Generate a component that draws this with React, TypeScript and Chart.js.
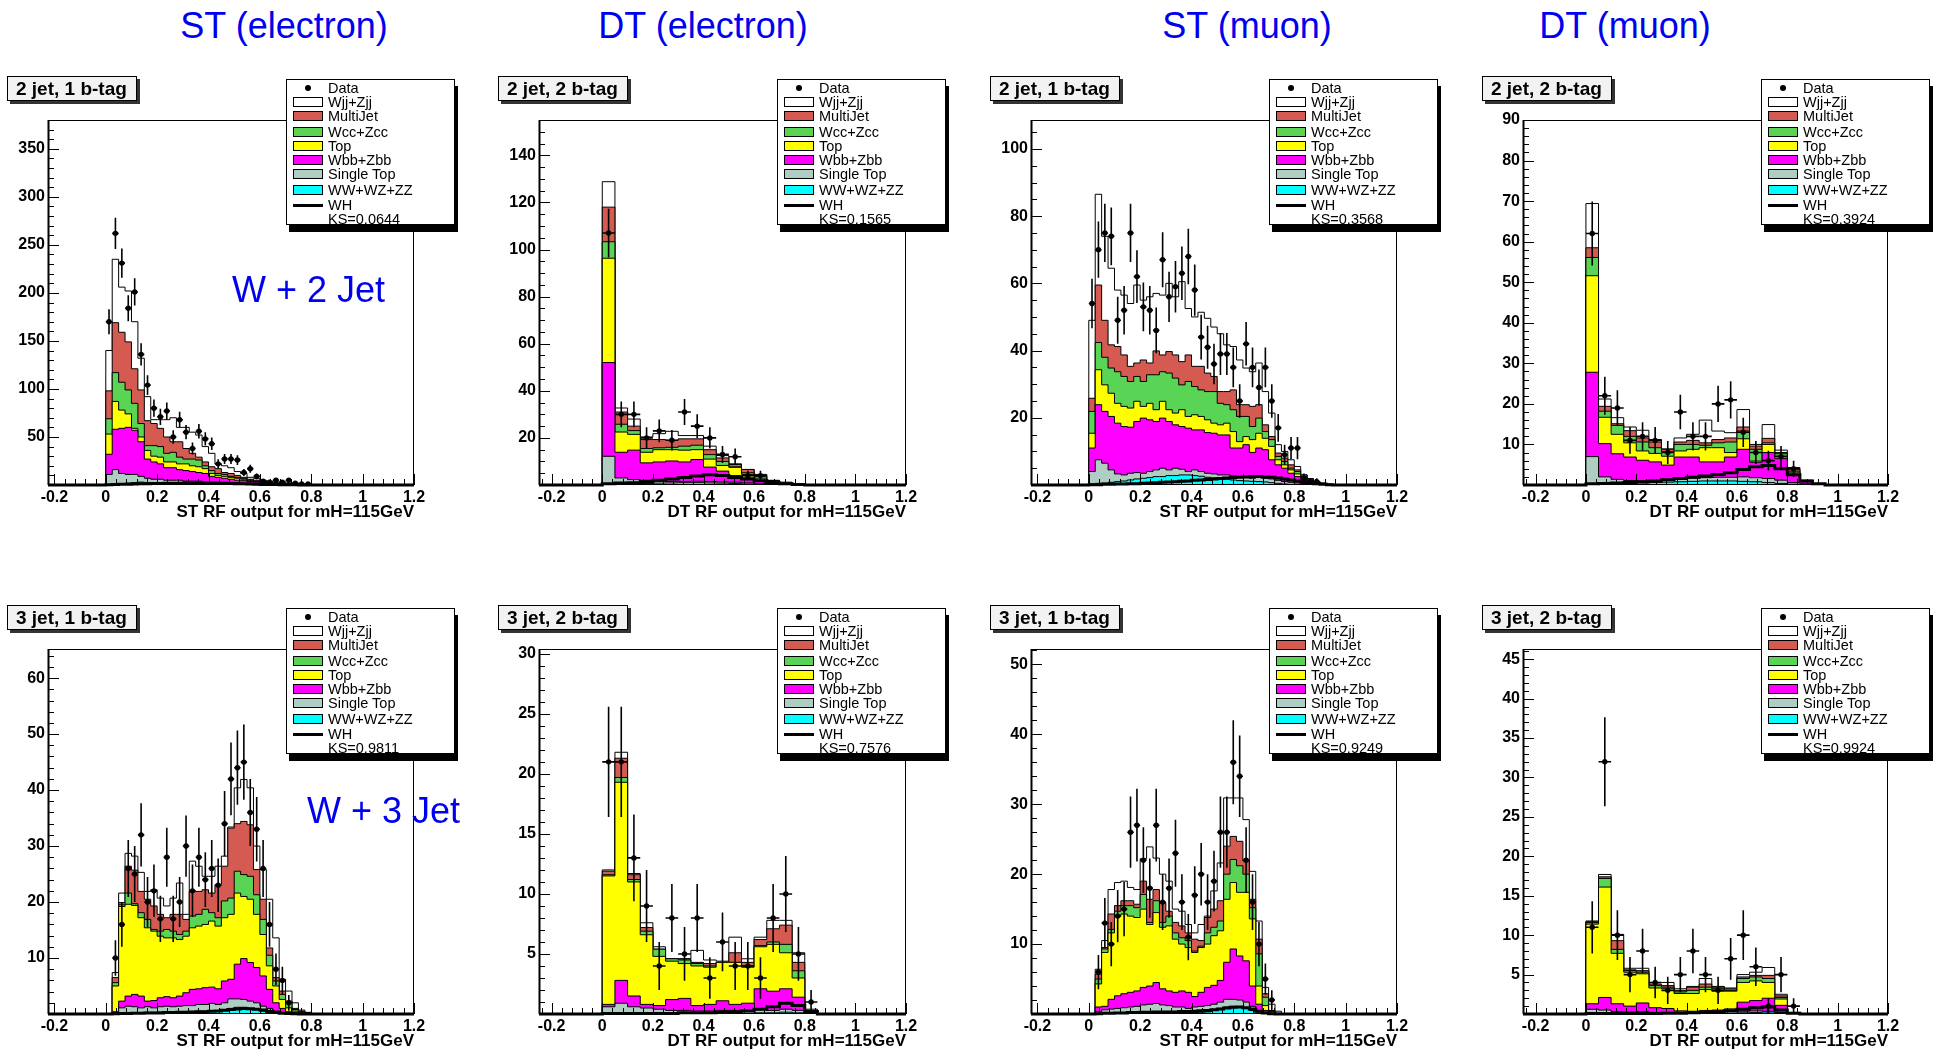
import React, { useEffect, useRef } from 'react';
import { Chart, registerables } from 'chart.js';

Chart.register(...registerables);

// Stack levels (cumulative height of the stack up to and including the named process),
// bins start at 0. Order: Wjj (total), MultiJet, Wcc, Top, Wbb, SingleTop, Diboson.

// ---------- Panel 1: ST electron, 2 jet 1 b-tag (bin 0.025)
const p1Tot = [140,235,206,202,170,132,92,68,68,68,70,60,60,55,52,40,33,22,20,18,14,12,8,7,5,4,3,3,2,2,1,1,0.5,0.5,0.3,0.2];
const p1Mj = [98,169,159,149,121,99,67,64,59,50,45,45,38,33,29,24,19,17,13,12,10,8,6,5,4,3,2,2,1.5,1,0.7,0.5,0.3,0.2,0.1,0.1];
const p1Wcc = [69,117,107,99,85,64,41,41,40,33,34,29,27,27,26,20,15,12,11,9,8,7,5,4,3,2.5,2,1.5,1,0.8,0.5,0.4,0.3,0.2,0.1,0.1];
const p1Top = [53,87,78,74,59,50,36,30,29,24,24,22,22,20,19,17,12,10,9,8,7,6,4,3.5,3,2,1.5,1.2,0.9,0.7,0.4,0.3,0.2,0.1,0.1,0.05];
const p1Wbb = [32,58,59,60,57,45,27,24,22,18,18,16,15,14,13,12,9,8,7,6,5,4.5,3.5,3,2.5,1.8,1.3,1,0.8,0.6,0.4,0.3,0.2,0.1,0.1,0.05];
const p1Stop = [11,16,12,11,11,9,7,6,6,5,5,5,4,4,4,3,3,3,2.5,2,2,1.5,1.2,1,0.8,0.6,0.5,0.4,0.3,0.2,0.2,0.1,0.1,0.05,0.05,0];
const p1Dib = [0.5,1,1.5,2,2.5,3,2.5,2.5,2.5,2,2,2,2,1.5,1.5,1.5,1.2,1,1,0.8,0.7,0.6,0.5,0.4,0.3,0.3,0.2,0.2,0.1,0.1,0.1,0,0,0,0,0];
const p1Wh = [0.3,0.5,0.7,0.9,1,1.2,1.3,1.5,1.6,1.7,1.8,1.9,2,2,2,2,2,1.9,1.8,1.6,1.4,1.2,1,0.8,0.6,0.5,0.4,0.3,0.2,0.2,0.1,0.1,0.1,0,0,0];
const p1Data = [170,262,231,184,201,136,104,80,71,77,50,68,55,38,56,48,43,22,27,27,26,13,17,9,4,3,5,3,5,2,1,1];

// ---------- Panel 2: DT electron, 2 jet 2 b-tag (bin 0.05)
const p2Tot = [128.8,32.7,28,20.4,21.8,22.8,21,21,16.5,12.5,9,6.6,4.5,2,1.2,0.5];
const p2Mj = [118,31,25,19.3,19.3,19,19.6,19.6,15,11.5,8.7,6.6,4,1.9,0.8,0.3];
const p2Wcc = [103.3,25.8,23.1,15.5,15.8,16,16.5,16.9,12.9,10,7.7,5.2,3.5,1.6,0.6,0.2];
const p2Top = [96.3,22.5,21.5,13.9,15,15,14.8,15,11,8.3,7.5,4.5,2.6,1.2,0.4,0.1];
const p2Wbb = [52,13.9,14.8,9.4,9.8,10.2,9.8,10.8,7.6,5.9,4,3,1.5,0.9,0.3,0.1];
const p2Stop = [12.2,3,2.3,2,1.6,1.5,1.5,1.6,1.5,1.3,1.2,0.9,0.5,0.3,0.1,0];
const p2Dib = [0.2,0.4,0.5,0.6,0.8,0.9,1,1,0.9,0.8,0.6,0.4,0.3,0.2,0.1,0];
const p2Wh = [0.5,0.8,1,1.5,2,2.6,3.2,3.8,4.3,4,3.2,2.5,1.8,1,0.5,0.2];
const p2Data = [107,30,30,20,23,19,31,25,20,13,12,4,4,1];

// ---------- Panel 3: ST muon, 2 jet 1 b-tag (bin 0.025)
const p3Tot = [49,86.5,74,64.5,58,56.5,54,59.5,55,56,57,56.5,60,56,60.5,52.5,50,51.4,49.6,47,45,41.7,41.2,37.2,34.8,33.7,36.3,27.8,21.4,12,10,7.5,5.5,3,1.9,1,0.6,0.3];
const p3Mj = [25.8,59.5,49,41.7,41.2,38.7,35.3,36.3,37.2,36.3,39.9,38.7,39.7,38.7,36.7,38.7,35.3,35.3,33.3,32.3,27.8,27.8,28.3,23.9,23.9,23.4,23.9,17.9,14.4,9.5,8,6,4.5,3,1.8,1,0.5,0.2];
const p3Wcc = [21.9,42.4,38,34.8,33.7,32.3,30.8,32.3,30.8,32.8,32.8,33.7,33.3,31.8,29.8,30.8,29.3,28.3,27.8,27.8,24.3,23.9,22.4,20.4,20.4,17.4,19.9,15.9,13.5,8.5,7,5,4,2.5,1.5,0.8,0.4,0.1];
const p3Top = [15.4,34.3,29.8,27.3,24.3,23.4,22.9,24.9,23.4,24.3,22.4,24.9,22.4,21.4,22.4,20.4,20.9,20.4,19.4,18.4,17.9,18.4,15.9,12.9,14.4,13.5,15.4,13.9,11.5,7.5,6,4.5,3.3,2,1.3,0.6,0.3,0.1];
const p3Wbb = [11,23.9,21.9,20.4,18.4,17.4,17.2,18.9,19.9,19.4,18.9,19.9,18.9,17.9,17.4,16.9,16.4,16.4,15.6,15.4,14.9,14.9,11,11,12,9.7,11,10.5,7.5,6,5,3.5,2.5,1.6,1,0.5,0.2,0.05];
const p3Stop = [4,7.5,6.5,4.5,3.3,3,3.5,3.7,3.5,4,4.5,5,4.5,5,4.7,4,4.5,4,3.5,3.3,3,3,2.7,2.5,2.3,2,2.3,2,1.8,1.4,1,0.8,0.6,0.4,0.3,0.2,0.1,0];
const p3Dib = [0.3,0.5,0.6,0.8,1,1.2,1.5,1.8,2,2.2,2.5,2.5,2.8,2.8,3,3,2.8,2.6,2.3,2.1,1.9,1.7,1.5,1.3,1.2,1.1,1,0.9,0.7,0.5,0.3,0.2,0.1,0,0,0,0,0];
const p3Wh = [0.1,0.1,0.2,0.2,0.3,0.3,0.4,0.4,0.5,0.6,0.7,0.8,0.9,1,1.1,1.2,1.4,1.5,1.6,1.8,1.9,2.1,2.2,2.3,2.4,2.5,2.5,2.4,2.3,2.1,1.8,1.5,1.2,0.9,0.6,0.4,0.2,0.1];
const p3Data = [54,70,75,74,49,52,75,62,53,52,46,67,56,59,63,68,58,44,41,36,39,39,35,25,42,35,29,35,25,17,9,11,11,2,1,1];

// ---------- Panel 4: DT muon, 2 jet 2 b-tag (bin 0.05)
const p4Tot = [69.4,21.2,16.6,14.3,13.5,11.2,8.9,11.6,12.5,16,13.3,12.9,18.6,10,14.9,8.6,4.3,1.2,0.3];
const p4Mj = [58.5,19.4,15.1,13.4,11.6,10.6,8.8,10.6,11,10.4,11.2,11.6,14.3,9.6,11.5,8,3.9,1,0.2];
const p4Wcc = [56.1,18.2,14.7,12,10.6,9.2,8.2,10,10,9.8,10.4,10.6,13.3,8.8,10.4,7.7,3.4,0.9,0.15];
const p4Top = [51.6,16.7,12.5,10.4,8.4,7.8,7.1,8.4,8.8,9.2,9.2,8,11.4,5.9,10,7.1,3,0.8,0.1];
const p4Wbb = [27.8,10.2,7.7,6.9,6.1,5.7,4.9,6.9,6.9,5.7,5.7,6.9,8.8,5.6,8,6.5,2.6,0.8,0.1];
const p4Stop = [7,2,1.4,1.1,1,0.9,1.2,1.6,1.7,1.8,1.9,1.9,2,1.8,1.6,1.2,0.6,0.3,0];
const p4Dib = [0.1,0.2,0.3,0.4,0.5,0.6,0.7,0.8,0.9,1,1,1,0.9,0.8,0.6,0.4,0.2,0.1,0];
const p4Wh = [0.3,0.4,0.5,0.6,0.8,1,1.3,1.6,1.9,2.2,2.6,3,3.8,4.5,4.8,4,2.5,1,0.3];
const p4Data = [62,22,19,11,12,11,8,18,12,12,20,21,13,8,6,7,4];

// ---------- Panel 5: ST electron, 3 jet 1 b-tag (bin 0.025)
const p5Tot = [0,7.4,21.6,28.7,28.2,25.3,21.9,22.2,20.7,19.3,20.7,23.4,17.8,27.3,26.4,24.6,24.6,26.4,28.2,33.4,40.4,41.9,40.4,30,25.8,20.5,13.6,6.2,4.1,2,0.7,0.3];
const p5Mj = [0,6.5,19.9,26.4,25.7,21.9,20.5,19.3,17.8,17.2,17.8,17.8,16.9,21.9,21.9,22.2,21.6,23.1,26.4,33.2,34,34.4,33.8,25.8,20.5,11.8,6.5,4.1,2.3,1,0.5,0.2];
const p5Wcc = [0,5.6,19.5,21.6,19.7,18.1,16.9,15.1,14.8,15.1,14.8,14.2,14.8,17.5,17.8,18.7,18.1,17.2,20.2,20.7,25.5,24.9,24.6,21.3,16.9,10.5,5.9,3.5,2,0.8,0.4,0.1];
const p5Top = [0,5,19.2,19.6,19.4,17.2,15.4,14.8,13.9,13.6,13.6,13.3,13.9,15.4,15.7,16,16.6,15.7,17.2,17.8,21.6,21,20.5,17.8,14.2,8.6,5,2.6,1.1,0.5,0.3,0.1];
const p5Wbb = [0,0.4,2.3,3.2,3.5,3.2,2.3,2.4,2.9,3.1,2.9,3.2,3.8,4.4,4.5,4.7,4.8,4.5,5.9,6.2,8.9,9.9,9.2,8.3,6.8,4.4,2,1,0.4,0.2,0.1,0];
const p5Stop = [0,0.2,1.1,1.4,1.3,1.1,1.3,1.1,1.3,1.4,1.3,1.4,1.5,1.5,1.7,1.7,1.9,1.7,2,2.7,2.7,2.6,2.3,2,1.4,1,0.5,0.2,0.1,0,0,0];
const p5Dib = [0,0.05,0.1,0.15,0.2,0.25,0.3,0.3,0.35,0.35,0.4,0.4,0.45,0.45,0.5,0.5,0.55,0.6,0.7,1,1.2,1.2,1,0.8,0.5,0.3,0.15,0.1,0.05,0,0,0];
const p5Wh = [0,0.05,0.1,0.1,0.15,0.15,0.2,0.2,0.2,0.25,0.25,0.3,0.3,0.35,0.4,0.4,0.5,0.55,0.65,0.8,0.9,1,0.95,0.85,0.7,0.5,0.3,0.15,0.08,0.04,0.02,0];
const p5Data = [0,10,16,26,25,32,20,22,17,28,17,20,30,22,28,24,26,23,34,42,44,45,36,33,26,16,8,6,2];

// ---------- Panel 6: DT electron, 3 jet 2 b-tag (bin 0.05)
const p6Tot = [12,21.8,11.7,7.6,5.6,4.6,4.6,5.3,4.5,4.4,6.4,4.6,6.4,7.8,7.8,5.1,0.4];
const p6Mj = [11.9,21.3,11.6,7.2,5.4,4.6,4.6,4.3,4.2,4.3,5.1,4.3,6.2,7.1,7.4,4.3,0.3];
const p6Wcc = [11.6,19.7,11.2,6.9,5.4,4.6,4.5,4.2,4,4.3,4.3,4,5.7,6,5.8,3.6,0.2];
const p6Top = [11.5,19.3,11,6.6,4.8,4.4,4.2,4,3.9,4.3,4.3,3.9,5.6,5.8,5.1,3,0.2];
const p6Wbb = [0.8,2.8,1.5,0.8,0.7,1.2,1.3,0.7,0.8,1.1,0.8,0.9,2.1,1.9,2.1,1.4,0.2];
const p6Stop = [0.6,0.9,0.6,0.5,0.4,0.3,0.3,0.25,0.25,0.3,0.3,0.3,0.35,0.3,0.4,0.3,0.1];
const p6Dib = [0,0,0,0,0.05,0.05,0.05,0.05,0.05,0.05,0.05,0.05,0.1,0.1,0.15,0.1,0];
const p6Wh = [0.05,0.05,0.05,0.05,0.05,0.05,0.1,0.1,0.1,0.15,0.2,0.25,0.4,0.6,0.9,0.7,0.2];
const p6Data = [21,21,13,9,4,8,5,8,3,6,4,4,3,8,10,5,1];

// ---------- Panel 7: ST muon, 3 jet 1 b-tag (bin 0.025)
const p7Tot = [0,6.4,10.5,17.8,18.8,19,18.1,17.8,22.2,23.9,22.3,20,19,15,14.7,12.8,11.6,12.8,14,17.6,21.6,30.9,30.9,30.9,27.8,20.4,13.3,3.8,1.4,0.4];
const p7Mj = [0,5.7,9.5,14.3,15.5,16.2,16.2,15.7,19,16.4,17.8,15.9,14.7,13.1,12.6,11.6,10.7,10.5,13.8,15,16.2,24,25.4,24.7,21.9,16.4,10.7,2.9,0.5,0.1];
const p7Wcc = [0,5,9.3,12.1,14.7,15.5,15.5,15.2,17.1,13.1,16.2,13.1,14,11.6,10.9,10.5,9,9.7,11.6,12.4,13.3,20,22.1,21.2,20,15.2,8.6,2.4,0.4,0.1];
const p7Top = [0,4.3,8.8,11.6,14,14.3,14,13.8,15,12.8,14.5,12.4,12.6,10.7,10,9.5,8.8,9.5,10,11.2,11.9,16.4,18.8,17.4,17.4,13.6,4,1.2,0.3,0];
const p7Wbb = [0,1,1.1,2.1,2.6,2.9,3.1,3.3,3.8,4,4.5,3.6,3.3,3.1,3.3,3.1,2.5,3.1,3.8,4.1,4.8,7.4,9.3,8.3,7.6,4,1.4,0.5,0.1,0];
const p7Stop = [0,0.3,0.6,0.7,0.8,0.9,1,1.1,1.3,1.4,1.5,1.3,1.2,1,1,0.8,1,1.1,1.2,1.4,1.7,2.1,2.1,2,1.7,1.1,0.4,0.1,0,0];
const p7Dib = [0,0.05,0.05,0.1,0.1,0.1,0.15,0.15,0.15,0.2,0.2,0.2,0.2,0.2,0.2,0.2,0.2,0.25,0.3,0.5,0.8,1,1.1,1,0.8,0.5,0.15,0.05,0,0];
const p7Wh = [0,0.05,0.1,0.1,0.15,0.15,0.2,0.2,0.25,0.25,0.3,0.3,0.3,0.3,0.35,0.35,0.4,0.45,0.5,0.6,0.7,0.85,0.95,1,0.9,0.7,0.4,0.15,0.05,0];
const p7Data = [0,6,13,10,14,15,26,27,22,18,27,16,18,23,16,11,17,20,16,19,26,26,36,34,22,16,10,5,2];

// ---------- Panel 8: DT muon, 3 jet 2 b-tag (bin 0.05)
const p8Tot = [11.8,17.7,10.1,5.8,5.8,4,4,3.2,3.5,4.5,3.5,3.3,5,5.3,5.9,2.5,0.2];
const p8Mj = [11.7,17.4,9.3,5.6,5.5,3.8,3.6,3,3.4,3.8,3.4,3.2,4.7,4.9,4.9,2.3,0.15];
const p8Wcc = [11.6,17.2,8.2,5.5,5.3,3.6,3.4,2.8,3,3.4,3.2,3,4.5,4.7,4.5,2.1,0.1];
const p8Top = [11.4,16.1,7.7,5.3,5.1,3.3,3.2,2.6,2.6,3.1,2.9,2.9,4,4.2,4,1.9,0.1];
const p8Wbb = [1.3,2.1,1.3,1,1.4,0.8,0.7,0.4,0.35,0.45,0.5,0.65,1.5,1.7,2,1.1,0.1];
const p8Stop = [0.6,0.5,0.3,0.25,0.3,0.2,0.2,0.15,0.15,0.2,0.25,0.3,0.35,0.4,0.35,0.2,0];
const p8Dib = [0,0,0,0,0,0,0,0.05,0.05,0.05,0.05,0.1,0.15,0.2,0.25,0.1,0];
const p8Wh = [0.05,0.05,0.05,0.05,0.05,0.05,0.1,0.1,0.15,0.2,0.3,0.4,0.6,0.8,0.9,0.5,0.1];
const p8Data = [11,32,10,5,8,4,3,5,8,5,3,7,10,6,1,5,1];

const KS_VALUES = ['0.0644', '0.1565', '0.3568', '0.3924', '0.9811', '0.7576', '0.9249', '0.9924'];
const COLUMN_TITLES = ['ST (electron)', 'DT (electron)', 'ST (muon)', 'DT (muon)'];

const FONT = '"Liberation Sans", Arial, Helvetica, sans-serif';

const STACK = [
  { label: 'Wjj+Zjj', color: '#ffffff' },
  { label: 'MultiJet', color: '#d45a52' },
  { label: 'Wcc+Zcc', color: '#59d454' },
  { label: 'Top', color: '#ffff00' },
  { label: 'Wbb+Zbb', color: '#ff00ff' },
  { label: 'Single Top', color: '#b0cdc4' },
  { label: 'WW+WZ+ZZ', color: '#00ffff' },
];

const ST_X = 'ST RF output for mH=115GeV';
const DT_X = 'DT RF output for mH=115GeV';

const PANELS = [
  { left: 48, top: 120, w: 366, h: 365, xMin: -0.225, bw: 0.025, yMax: 380, yStep: 50, yMinor: 10, tag: '2 jet, 1 b-tag', xTitle: ST_X, ks: KS_VALUES[0], s: [p1Tot, p1Mj, p1Wcc, p1Top, p1Wbb, p1Stop, p1Dib], wh: p1Wh, data: p1Data },
  { left: 539, top: 120, w: 367, h: 365, xMin: -0.25, bw: 0.05, yMax: 155, yStep: 20, yMinor: 5, tag: '2 jet, 2 b-tag', xTitle: DT_X, ks: KS_VALUES[1], s: [p2Tot, p2Mj, p2Wcc, p2Top, p2Wbb, p2Stop, p2Dib], wh: p2Wh, data: p2Data },
  { left: 1031, top: 120, w: 366, h: 365, xMin: -0.225, bw: 0.025, yMax: 108.6, yStep: 20, yMinor: 5, tag: '2 jet, 1 b-tag', xTitle: ST_X, ks: KS_VALUES[2], s: [p3Tot, p3Mj, p3Wcc, p3Top, p3Wbb, p3Stop, p3Dib], wh: p3Wh, data: p3Data },
  { left: 1523, top: 120, w: 365, h: 365, xMin: -0.25, bw: 0.05, yMax: 90, yStep: 10, yMinor: 2, tag: '2 jet, 2 b-tag', xTitle: DT_X, ks: KS_VALUES[3], s: [p4Tot, p4Mj, p4Wcc, p4Top, p4Wbb, p4Stop, p4Dib], wh: p4Wh, data: p4Data },
  { left: 48, top: 649, w: 366, h: 365, xMin: -0.225, bw: 0.025, yMax: 65.2, yStep: 10, yMinor: 2, tag: '3 jet, 1 b-tag', xTitle: ST_X, ks: KS_VALUES[4], s: [p5Tot, p5Mj, p5Wcc, p5Top, p5Wbb, p5Stop, p5Dib], wh: p5Wh, data: p5Data },
  { left: 539, top: 649, w: 367, h: 365, xMin: -0.25, bw: 0.05, yMax: 30.4, yStep: 5, yMinor: 1, tag: '3 jet, 2 b-tag', xTitle: DT_X, ks: KS_VALUES[5], s: [p6Tot, p6Mj, p6Wcc, p6Top, p6Wbb, p6Stop, p6Dib], wh: p6Wh, data: p6Data },
  { left: 1031, top: 649, w: 366, h: 365, xMin: -0.225, bw: 0.025, yMax: 52.2, yStep: 10, yMinor: 2, tag: '3 jet, 1 b-tag', xTitle: ST_X, ks: KS_VALUES[6], s: [p7Tot, p7Mj, p7Wcc, p7Top, p7Wbb, p7Stop, p7Dib], wh: p7Wh, data: p7Data },
  { left: 1523, top: 649, w: 365, h: 365, xMin: -0.25, bw: 0.05, yMax: 46.3, yStep: 5, yMinor: 1, tag: '3 jet, 2 b-tag', xTitle: DT_X, ks: KS_VALUES[7], s: [p8Tot, p8Mj, p8Wcc, p8Top, p8Wbb, p8Stop, p8Dib], wh: p8Wh, data: p8Data },
];

const PAD_T = 20;
const PAD_R = 20;
const YW = 48;
const XH = 45;

function PanelChart({ p }: { p: any }) {
  const ref = useRef<HTMLCanvasElement>(null);
  const cw = YW + p.w + PAD_R;
  const ch = PAD_T + p.h + XH;

  useEffect(() => {
    const cv = ref.current;
    if (!cv) return;
    const r4 = (v: number) => Math.round(v * 10000) / 10000;
    const hist = (arr: number[]) => {
      const pts: any[] = [{ x: p.xMin, y: 0 }];
      arr.forEach((v, i) => pts.push({ x: r4(i * p.bw), y: v }));
      pts.push({ x: r4(arr.length * p.bw), y: 0 });
      pts.push({ x: 1.2, y: 0 });
      return pts;
    };
    const dataPts = p.data
      .map((v: number, i: number) => (v > 0 ? { x: r4((i + 0.5) * p.bw), y: v } : null))
      .filter(Boolean);

    const datasets: any[] = [];
    datasets.push({
      label: 'Data', data: dataPts, showLine: false, pointRadius: 2.7, pointHoverRadius: 2.7,
      pointBackgroundColor: '#000', pointBorderColor: '#000', pointBorderWidth: 0, order: 0,
    });
    datasets.push({
      label: 'WH', data: hist(p.wh), stepped: 'before', borderColor: '#000', borderWidth: 3,
      pointRadius: 0, fill: false, order: 1, clip: false,
    });
    STACK.forEach((st, k) => {
      datasets.push({
        label: st.label, data: hist(p.s[k]), stepped: 'before', borderColor: '#000', borderWidth: 1,
        backgroundColor: st.color, fill: 'origin', pointRadius: 0, order: 8 - k,
      });
    });

    const errPlugin = {
      id: 'errbars',
      afterDatasetsDraw(chart: any) {
        const ctx = chart.ctx;
        const xs = chart.scales.x;
        const ys = chart.scales.y;
        const a = chart.chartArea;
        ctx.save();
        ctx.beginPath();
        ctx.rect(a.left, a.top, a.right - a.left, a.bottom - a.top);
        ctx.clip();
        ctx.strokeStyle = '#000';
        ctx.lineWidth = 1.6;
        chart.data.datasets[0].data.forEach((pt: any) => {
          const e = Math.sqrt(pt.y);
          const px = xs.getPixelForValue(pt.x);
          const py = ys.getPixelForValue(pt.y);
          ctx.beginPath();
          ctx.moveTo(px, ys.getPixelForValue(Math.max(pt.y - e, 0)));
          ctx.lineTo(px, ys.getPixelForValue(pt.y + e));
          ctx.moveTo(xs.getPixelForValue(pt.x - p.bw / 2), py);
          ctx.lineTo(xs.getPixelForValue(pt.x + p.bw / 2), py);
          ctx.stroke();
        });
        ctx.restore();
      },
    };

    const framePlugin = {
      id: 'frame',
      afterDraw(chart: any) {
        const ctx = chart.ctx;
        const xs = chart.scales.x;
        const ys = chart.scales.y;
        const { left, right, top, bottom } = chart.chartArea;
        ctx.save();
        ctx.strokeStyle = '#000';
        ctx.lineWidth = 1;
        ctx.strokeRect(left + 0.5, top + 0.5, right - left - 1, bottom - top - 1);
        ctx.fillStyle = '#000';
        ctx.fillRect(left - 0.5, top, 2, bottom - top);
        ctx.beginPath();
        const k0 = Math.ceil(p.xMin / 0.04 - 1e-6);
        const k1 = Math.floor(1.2 / 0.04 + 1e-6);
        for (let k = k0; k <= k1; k++) {
          const px = Math.round(xs.getPixelForValue(k * 0.04)) + 0.5;
          const len = k % 5 === 0 ? 11 : 6;
          ctx.moveTo(px, bottom);
          ctx.lineTo(px, bottom - len);
        }
        const ratio = Math.round(p.yStep / p.yMinor);
        const n = Math.floor(p.yMax / p.yMinor + 1e-6);
        for (let k = 1; k <= n; k++) {
          const py = Math.round(ys.getPixelForValue(k * p.yMinor)) + 0.5;
          const len = k % ratio === 0 ? 11 : 6;
          ctx.moveTo(left, py);
          ctx.lineTo(left + len, py);
        }
        ctx.stroke();
        ctx.restore();
      },
    };

    const chart = new Chart(cv, {
      type: 'line',
      data: { datasets },
      options: {
        animation: false,
        responsive: false,
        maintainAspectRatio: false,
        devicePixelRatio: 1,
        events: [],
        layout: { padding: { top: PAD_T, right: PAD_R, left: 0, bottom: 0 } },
        plugins: { legend: { display: false }, tooltip: { enabled: false } },
        scales: {
          x: {
            type: 'linear',
            min: p.xMin,
            max: 1.2,
            grid: { display: false, drawTicks: false },
            border: { display: false },
            ticks: {
              stepSize: 0.2,
              includeBounds: false,
              autoSkip: false,
              maxRotation: 0,
              padding: 3,
              color: '#000',
              font: { family: FONT, size: 16, weight: 'bold' },
              callback: (v: any) => String(Math.round(Number(v) * 10) / 10),
            },
            title: {
              display: true,
              text: p.xTitle,
              align: 'end',
              color: '#000',
              font: { family: FONT, size: 17, weight: 'bold' },
              padding: { top: 0, bottom: 7 },
            },
            afterFit: (s: any) => { s.height = XH; },
          },
          y: {
            type: 'linear',
            min: 0,
            max: p.yMax,
            grid: { display: false, drawTicks: false },
            border: { display: false },
            ticks: {
              stepSize: p.yStep,
              includeBounds: false,
              autoSkip: false,
              padding: 3,
              color: '#000',
              font: { family: FONT, size: 16, weight: 'bold' },
              callback: (v: any) => (Number(v) === 0 ? '' : String(v)),
            },
            afterFit: (s: any) => { s.width = YW; },
          },
        },
      } as any,
      plugins: [errPlugin, framePlugin],
    } as any);
    return () => chart.destroy();
  }, [p]);

  return (
    <canvas
      ref={ref}
      width={cw}
      height={ch}
      style={{ position: 'absolute', left: p.left - YW, top: p.top - PAD_T, width: cw, height: ch }}
    />
  );
}

const LEGEND_ROWS = [
  { label: 'Data', kind: 'dot', cy: 8 },
  { label: STACK[0].label, kind: 'box', color: STACK[0].color, cy: 21.5 },
  { label: STACK[1].label, kind: 'box', color: STACK[1].color, cy: 36 },
  { label: STACK[2].label, kind: 'box', color: STACK[2].color, cy: 51.5 },
  { label: STACK[3].label, kind: 'box', color: STACK[3].color, cy: 65.5 },
  { label: STACK[4].label, kind: 'box', color: STACK[4].color, cy: 80 },
  { label: STACK[5].label, kind: 'box', color: STACK[5].color, cy: 94 },
  { label: STACK[6].label, kind: 'box', color: STACK[6].color, cy: 110 },
  { label: 'WH', kind: 'line', cy: 125 },
];

function Legend({ p }: { p: any }) {
  const txt: any = {
    position: 'absolute', left: 41, fontSize: 14.5, lineHeight: '16px', fontFamily: FONT,
    color: '#000', whiteSpace: 'nowrap',
  };
  return (
    <div
      style={{
        position: 'absolute', left: p.left + 238, top: p.top - 41, width: 169, height: 146,
        boxSizing: 'border-box', border: '1px solid #000', background: '#fff',
        boxShadow: '3px 7px 0 #000', zIndex: 5,
      }}
    >
      {LEGEND_ROWS.map((r) => (
        <React.Fragment key={r.label}>
          {r.kind === 'box' && (
            <div style={{
              position: 'absolute', left: 6, top: r.cy - 5, width: 30, height: 10,
              boxSizing: 'border-box', border: '1px solid #000', background: r.color,
            }} />
          )}
          {r.kind === 'dot' && (
            <div style={{
              position: 'absolute', left: 18, top: r.cy - 3, width: 6, height: 6,
              borderRadius: 3, background: '#000',
            }} />
          )}
          {r.kind === 'line' && (
            <div style={{ position: 'absolute', left: 6, top: r.cy - 1.5, width: 30, height: 3, background: '#000' }} />
          )}
          <div style={{ ...txt, top: r.cy - 8 }}>{r.label}</div>
        </React.Fragment>
      ))}
      <div style={{ ...txt, top: 138.5 - 8 }}>{'KS=' + p.ks}</div>
    </div>
  );
}

function TagBox({ p }: { p: any }) {
  return (
    <div
      style={{
        position: 'absolute', left: p.left - 41, top: p.top - 44, width: 130, height: 25,
        boxSizing: 'border-box', border: '1px solid #000', background: '#f2f2f2',
        boxShadow: '3px 3px 0 #333', fontFamily: FONT, fontWeight: 'bold', fontSize: 19,
        lineHeight: '23px', paddingLeft: 8, whiteSpace: 'nowrap', color: '#000', zIndex: 5,
      }}
    >
      {p.tag}
    </div>
  );
}

const TITLE_CENTERS = [284, 703, 1247, 1625];

export default function App() {
  return (
    <div style={{ position: 'absolute', left: 0, top: 0, width: 1938, height: 1053, background: '#fff', overflow: 'hidden' }}>
      {COLUMN_TITLES.map((t, i) => (
        <div key={t} style={{
          position: 'absolute', left: TITLE_CENTERS[i] - 150, top: 8, width: 300, textAlign: 'center',
          fontFamily: FONT, fontSize: 36, lineHeight: '36px', color: '#0000ee', whiteSpace: 'nowrap',
        }}>{t}</div>
      ))}
      {PANELS.map((p, i) => <PanelChart key={'c' + i} p={p} />)}
      {PANELS.map((p, i) => <TagBox key={'t' + i} p={p} />)}
      {PANELS.map((p, i) => <Legend key={'l' + i} p={p} />)}
      <div style={{ position: 'absolute', left: 232, top: 272, fontFamily: FONT, fontSize: 36, lineHeight: '36px', color: '#0000ee', whiteSpace: 'nowrap', zIndex: 4 }}>W + 2 Jet</div>
      <div style={{ position: 'absolute', left: 307, top: 793, fontFamily: FONT, fontSize: 36, lineHeight: '36px', color: '#0000ee', whiteSpace: 'nowrap', zIndex: 4 }}>W + 3 Jet</div>
    </div>
  );
}
